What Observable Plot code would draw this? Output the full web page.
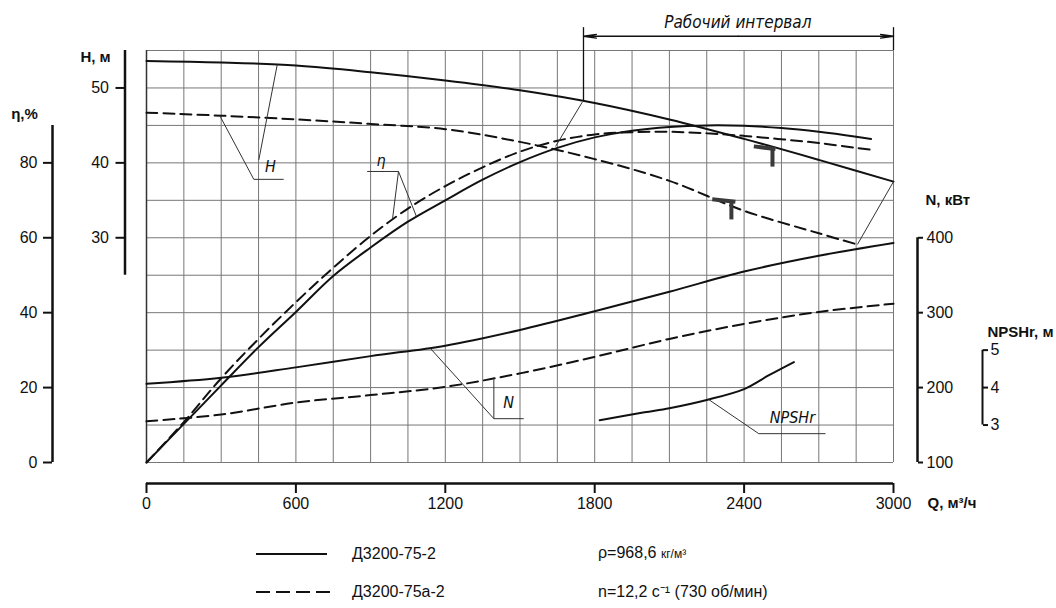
<!DOCTYPE html>
<html><head><meta charset="utf-8">
<script src="https://cdn.jsdelivr.net/npm/d3@7"></script>
<script src="https://cdn.jsdelivr.net/npm/@observablehq/plot@0.6"></script>
<style>
body{margin:0;background:#fff;font-family:"Liberation Sans",Arial,sans-serif;}
#wrap{position:relative;width:1056px;height:608px;overflow:hidden;background:#fff}
#legend{position:absolute;left:0;top:530px;width:1056px;height:78px}
.it{position:absolute;font-size:16px;line-height:1;transform:translateY(-50%);white-space:nowrap;color:#111}
.small{font-size:12px}
</style></head><body>
<div id="wrap"><div id="chart"></div><div id="legend"></div></div>
<script>
// ---------- data ----------
const seriesNames = ["Д3200-75-2", "Д3200-75а-2"];
const Q_eta = [0,150,300,450,600,750,900,1050,1200,1350,1500,1650,1800,1950,2100,2250,2400,2550,2700,2850,2910];
const eta_75_2  = [0,10.3,20.6,30.8,40.2,49.8,57.4,64.3,70.0,75.5,80.2,84.0,86.8,88.6,89.6,90.0,89.9,89.3,88.3,87.0,86.4];
const eta_75a_2 = [0,10.8,22.5,33.0,42.8,52.0,60.5,67.8,73.8,78.8,83.0,85.9,87.6,88.2,88.3,87.9,87.2,86.3,85.3,84.0,83.5];
const Q_H  = [0,300,600,900,1200,1500,1800,2100,2400,2700,3000];
const H_75_2  = [53.6,53.4,53.0,52.1,51.0,49.7,48.0,45.8,43.2,40.4,37.5];
const Q_Ha = [0,300,600,900,1200,1500,1800,2100,2400,2700,2855];
const H_75a_2 = [46.7,46.3,45.8,45.2,44.5,42.8,40.5,37.6,33.6,30.6,29.1];
const Q_N  = [0,300,600,900,1200,1500,1800,2100,2400,2700,3000];
const N_75_2  = [205,213,227,242,256,277,302,328,355,376,393];
const N_75a_2 = [155,164,180,190,201,219,241,265,285,301,312];
const Q_npsh = [1820,2000,2100,2250,2400,2500,2600];
const npsh_75_2 = [3.13,3.34,3.45,3.67,3.96,4.33,4.68];
const qTicks = [0,600,1200,1800,2400,3000];
const etaTicks = [0,20,40,60,80];
const hTicks = [30,40,50];
const nTicks = [100,200,300,400];
const npshTicks = [3,4,5];
const workRange = [1755, 3000];
const workLabel = "Рабочий интервал";
const density = "ρ=968,6 ";
const densityUnit = "кг/м³";
const speed = "n=12,2 с⁻¹ (730 об/мин)";

// all curves share one vertical scale expressed in η-% units
const fromH = h => 2 * h;
const fromN = n => (n - 100) / 5;
const fromNP = p => 10 * p - 20;

const pts = (qs, vs, f) => qs.map((q, i) => ({Q: q, v: f(vs[i])}));
const id = v => v;

// annotation leaders (Q, η-units)
const leaders = [
  {x1:431,y1:75.6,x2:295,y2:92.5},{x1:451,y1:80.8,x2:525,y2:106.2},{x1:431,y1:75.6,x2:551,y2:75.6},
  {x1:886,y1:77.7,x2:1012,y2:77.7},{x1:1012,y1:77.7,x2:988,y2:65.0},{x1:1012,y1:77.7,x2:1084,y2:65.7},
  {x1:1395,y1:11.7,x2:1515,y2:11.7},{x1:1395,y1:11.7,x2:1141,y2:30.4},{x1:1395,y1:11.7,x2:1395,y2:22.7},
  {x1:2459,y1:7.7,x2:2727,y2:7.7},{x1:2459,y1:7.7,x2:2258,y2:16.8},
  {x1:1750,y1:96.2,x2:1643,y2:84.4},{x1:3000,y1:75.0,x2:2855,y2:58.2}
];
const curveLabels = [
  {Q:498,v:78.9,t:"H"},{Q:942,v:80.6,t:"η"},{Q:1454,v:15.8,t:"N"},{Q:2594,v:11.8,t:"NPSHr"}
];
const marksT = [
  {x1:2439,y1:84.4,x2:2526,y2:83.7},{x1:2514,y1:83.9,x2:2514,y2:79.0},
  {x1:2272,y1:70.3,x2:2365,y2:69.6},{x1:2349,y1:69.8,x2:2349,y2:64.9}
];

const solid = {x:"Q", y:"v", stroke:"#111", strokeWidth:2, curve:"catmull-rom"};
const dashed = {...solid, strokeDasharray:"11,6"};
const narrow = "'Liberation Sans Narrow','DejaVu Sans Condensed','Liberation Sans',sans-serif";
const axisFont = 16;
const plain = d => `${d}`;

const chart = Plot.plot({
  width: 1056, height: 530,
  marginLeft: 146, marginRight: 163, marginTop: 50, marginBottom: 68,
  x: {domain: [0, 3000]},
  y: {domain: [0, 110]},
  style: {fontFamily: "'Liberation Sans',Arial,sans-serif", background: "white", color: "#111"},
  marks: [
    Plot.ruleX(d3.range(0, 3001, 150), {y1: 0, y2: 110, stroke: "#777", strokeWidth: 1}),
    Plot.ruleY(d3.range(0, 111, 10), {x1: 0, x2: 3000, stroke: "#777", strokeWidth: 1}),
    Plot.ruleX([0], {y1: 0, y2: 110, stroke: "#333", strokeWidth: 1.5}),
    // curves
    Plot.line(pts(Q_H, H_75_2, fromH), solid),
    Plot.line(pts(Q_Ha, H_75a_2, fromH), dashed),
    Plot.line(pts(Q_eta, eta_75_2, id), solid),
    Plot.line(pts(Q_eta, eta_75a_2, id), dashed),
    Plot.line(pts(Q_N, N_75_2, fromN), solid),
    Plot.line(pts(Q_N, N_75a_2, fromN), dashed),
    Plot.line(pts(Q_npsh, npsh_75_2, fromNP), solid),
    // leaders and labels
    Plot.link(leaders, {x1:"x1", y1:"y1", x2:"x2", y2:"y2", stroke:"#333", strokeWidth:1}),
    Plot.text(curveLabels, {x:"Q", y:"v", text:"t", fontStyle:"italic", fontSize:16, fontFamily:narrow, fill:"#111"}),
    Plot.link(marksT, {x1:"x1", y1:"y1", x2:"x2", y2:"y2", stroke:"#3a3a3a", strokeWidth:4}),
    // working range
    Plot.ruleX([workRange[0]], {y1: fromH(48.25), y2: 116.1, stroke:"#111", strokeWidth:1.3}),
    Plot.ruleX([workRange[1]], {y1: 110, y2: 116.1, stroke:"#111", strokeWidth:1.3}),
    Plot.arrow([{a: d3.mean(workRange), b: workRange[0]}, {a: d3.mean(workRange), b: workRange[1]}],
      {x1:"a", x2:"b", y1:113.8, y2:113.8, stroke:"#111", strokeWidth:1.3, headLength:15, headAngle:16}),
    Plot.text([workLabel], {x: 2375, y: 117.4, text: d => d, fontStyle:"italic", fontSize:17, fontFamily:narrow, fill:"#111"}),
    // axes
    Plot.ruleX([0], {y1:0, y2:90, dx:-94, stroke:"#111", strokeWidth:2.5}),
    Plot.axisY(etaTicks, {anchor:"left", dx:-94, tickSize:9, tickPadding:6, fontSize:axisFont, label:null, strokeWidth:2, tickFormat: plain}),
    Plot.ruleX([0], {y1:fromH(25), y2:fromH(55), dx:-21.5, stroke:"#111", strokeWidth:2.5}),
    Plot.axisY(hTicks.map(fromH), {anchor:"left", dx:-21.5, tickSize:9, tickPadding:7, fontSize:axisFont, label:null, strokeWidth:2, tickFormat: d => `${d / 2}`}),
    Plot.ruleX([3000], {y1:fromN(100), y2:fromN(400), dx:24, stroke:"#111", strokeWidth:2.5}),
    Plot.axisY(nTicks.map(fromN), {anchor:"right", dx:24, tickSize:5, tickPadding:4, fontSize:axisFont, label:null, strokeWidth:2, tickFormat: d => `${d * 5 + 100}`}),
    Plot.ruleX([3000], {y1:fromNP(3), y2:fromNP(5), dx:89, stroke:"#111", strokeWidth:2}),
    Plot.axisY(npshTicks.map(fromNP), {anchor:"right", dx:89, tickSize:5, tickPadding:3, fontSize:axisFont, label:null, strokeWidth:2, tickFormat: d => `${(d + 20) / 10}`}),
    Plot.ruleY([0], {x1:0, x2:3000, dy:21, stroke:"#111", strokeWidth:2.5}),
    Plot.axisX(qTicks, {anchor:"bottom", dy:21, tickSize:10, tickPadding:4, fontSize:axisFont, label:null, strokeWidth:2, tickFormat: plain}),
    // axis titles
    Plot.text(["η,%"], {x:0, y:93, dx:-122, text:d=>d, fontWeight:"bold", fontSize:15, textAnchor:"middle"}),
    Plot.text(["H, м"], {x:0, y:108.1, dx:-51, text:d=>d, fontWeight:"bold", fontSize:15, textAnchor:"middle"}),
    Plot.text(["N, кВт"], {x:3000, y:70.1, dx:32, text:d=>d, fontWeight:"bold", fontSize:15, textAnchor:"start"}),
    Plot.text(["NPSHr, м"], {x:3000, y:34.8, dx:160, text:d=>d, fontWeight:"bold", fontSize:15, textAnchor:"end"}),
    Plot.text(["Q, м³/ч"], {x:3000, y:0, dx:34, dy:41, text:d=>d, fontWeight:"bold", fontSize:15, textAnchor:"start"})
  ]
});
document.getElementById("chart").appendChild(chart);

// legend below the SVG
const lg = document.getElementById("legend");
lg.innerHTML =
  `<svg style="position:absolute;left:0;top:0" width="1056" height="78">
     <line x1="256" x2="327" y1="24" y2="24" stroke="#111" stroke-width="2"/>
     <line x1="256" x2="330" y1="62" y2="62" stroke="#111" stroke-width="2" stroke-dasharray="14,6"/>
   </svg>
   <div class="it" style="left:352px;top:24px">${seriesNames[0]}</div>
   <div class="it" style="left:352px;top:62px">${seriesNames[1]}</div>
   <div class="it" style="left:598px;top:23px">${density}<span class="small">${densityUnit}</span></div>
   <div class="it" style="left:598px;top:62px">${speed}</div>`;
</script></body></html>
